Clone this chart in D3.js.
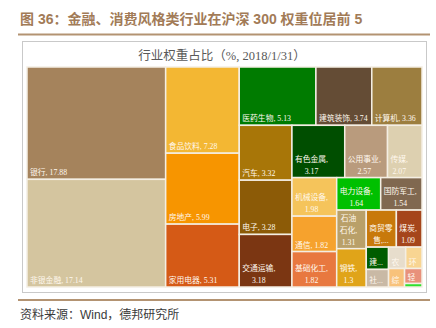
<!DOCTYPE html>
<html>
<head>
<meta charset="utf-8">
<script src="https://cdn.jsdelivr.net/npm/d3@7"></script>
<style>
  body { margin: 0; background: #fff; }
  svg { display: block; }
</style>
</head>
<body>
<svg id="chart" width="436" height="328"></svg>
<script>
// CSI 300 industry weights (%), 2018/1/31
const industries = ["银行", "非银金融", "食品饮料", "房地产", "家用电器", "医药生物", "建筑装饰", "计算机",
  "汽车", "电子", "交通运输", "有色金属", "公用事业", "传媒", "机械设备", "通信", "基础化工",
  "电力设备", "国防军工", "石油石化", "钢铁", "商贸零售", "煤炭", "建筑材料", "社会服务",
  "农林牧渔", "环保", "综合", "轻工制造", "纺织服饰"];
const weights = [17.88, 17.14, 7.28, 5.99, 5.31, 5.13, 3.74, 3.36,
  3.32, 3.28, 3.18, 3.17, 2.57, 2.07, 1.98, 1.82, 1.82,
  1.64, 1.54, 1.31, 1.3, 1.28, 1.09, 0.57, 0.45,
  0.42, 0.40, 0.34, 0.30, 0.07];
const palette = ["#a5835c", "#d4c59f", "#f3b733", "#f79500", "#d55a16", "#007b00", "#644c35", "#9c7e3f",
  "#a87608", "#8c5b07", "#7b3612", "#004e00", "#b99b7d", "#ddd0b0", "#f5c45b", "#f6a22d", "#e8783f",
  "#00c000", "#806850", "#b9a069", "#e0a419", "#c8790b", "#a5451b", "#005c00", "#c9b9a5",
  "#e7ddcc", "#f8d592", "#f8c27b", "#e8917b", "#2ee02e"];

const chartTitle = "图 36：金融、消费风格类行业在沪深 300 权重位居前 5";
const plotTitle = "行业权重占比（%, 2018/1/31）";
const sourceNote = "资料来源：Wind，德邦研究所";

const svg = d3.select("#chart");

// header
svg.append("text")
  .attr("x", 20).attr("y", 24)
  .attr("font-family", "'Liberation Sans', 'Noto Sans CJK SC'")
  .attr("font-size", 14).attr("font-weight", "bold")
  .attr("fill", "#a27b57")
  .text(chartTitle);
svg.append("line")
  .attr("x1", 18).attr("x2", 430).attr("y1", 34.5).attr("y2", 34.5)
  .attr("stroke", "#b39372").attr("stroke-width", 2);

// chart frame
svg.append("rect")
  .attr("x", 22.5).attr("y", 41.5).attr("width", 404).attr("height", 251)
  .attr("fill", "#fff").attr("stroke", "#c9c9c9").attr("stroke-width", 1);

svg.append("text")
  .attr("x", 222).attr("y", 59.5)
  .attr("text-anchor", "middle")
  .attr("font-family", "'Liberation Serif', 'Noto Sans CJK SC'")
  .attr("font-size", 12.5)
  .attr("fill", "#595959")
  .text(plotTitle);

// treemap
const area = { x: 27, y: 67, w: 395, h: 220 };
const data = industries.map((name, i) => ({ name, value: weights[i], color: palette[i] }));

const root = d3.hierarchy({ children: data })
  .sum(d => d.value || 0)
  .sort((a, b) => b.value - a.value);

d3.treemap()
  .tile(d3.treemapSquarify.ratio(1))
  .size([area.w, area.h])(root);

const g = svg.append("g").attr("transform", `translate(${area.x},${area.y})`);

const cells = g.selectAll("g.cell")
  .data(root.leaves())
  .join("g")
  .attr("class", "cell");

cells.append("rect")
  .attr("x", d => d.x0).attr("y", d => d.y0)
  .attr("width", d => d.x1 - d.x0).attr("height", d => d.y1 - d.y0)
  .attr("fill", d => d.data.color)
  .attr("stroke", "#f4eee3").attr("stroke-width", 1.5);

// label layout: wrap CJK per character, keep numbers whole, ellipsis when out of room
const fontSize = 7.8;
const lineH = 12;
const pad = 3.1;
const labelFont = `${fontSize}px "Liberation Serif", "Noto Sans CJK SC"`;
const ctx = document.createElement("canvas").getContext("2d");
ctx.font = labelFont;
const measure = s => ctx.measureText(s).width;

function wrapLabel(text, maxW, maxLines) {
  const tokens = text.match(/[\u3400-\u9fff][,，]?|[^\s\u3400-\u9fff]+|\s+/g) || [];
  const lines = [];
  let cur = "";
  for (const t of tokens) {
    if (/^\s+$/.test(t)) { if (cur) cur += " "; continue; }
    if (!cur || measure(cur + t) <= maxW) { cur += t; }
    else { lines.push(cur.trimEnd()); cur = t; }
  }
  if (cur) lines.push(cur.trimEnd());
  if (lines.length <= maxLines) return lines;
  const out = lines.slice(0, maxLines);
  let last = out[maxLines - 1];
  let cut = last;
  while (cut.length && measure(cut + "...") > maxW) cut = cut.slice(0, -1);
  out[maxLines - 1] = cut.length ? cut + "..." : last;
  return out;
}

cells.each(function (d) {
  const w = d.x1 - d.x0, h = d.y1 - d.y0;
  if (h < 10 || w < 10) return;
  let maxLines = Math.floor((h - 2) / lineH);
  if (maxLines < 1) maxLines = 1;
  const maxW = w - 2 * pad;
  const lines = wrapLabel(`${d.data.name}, ${d.data.value}`, maxW, maxLines);
  const blockW = d3.max(lines, measure);
  const cx = d.x0 + 3 + blockW / 2;
  const lastY = d.y1 - 4;
  const t = d3.select(this).append("text")
    .attr("font-family", "'Liberation Serif', 'Noto Sans CJK SC'")
    .attr("font-size", fontSize)
    .attr("fill", "#fff8ee")
    .attr("text-anchor", lines.length > 1 ? "middle" : "start");
  lines.forEach((ln, i) => {
    t.append("tspan")
      .attr("x", lines.length > 1 ? cx : d.x0 + 3)
      .attr("y", lastY - (lines.length - 1 - i) * lineH)
      .text(ln);
  });
});

// footer
svg.append("line")
  .attr("x1", 18).attr("x2", 430).attr("y1", 300).attr("y2", 300)
  .attr("stroke", "#b39372").attr("stroke-width", 2);
svg.append("text")
  .attr("x", 20).attr("y", 319)
  .attr("font-family", "'Liberation Sans', 'Noto Sans CJK SC'")
  .attr("font-size", 12)
  .attr("fill", "#3a3a3a")
  .text(sourceNote);
</script>
</body>
</html>
